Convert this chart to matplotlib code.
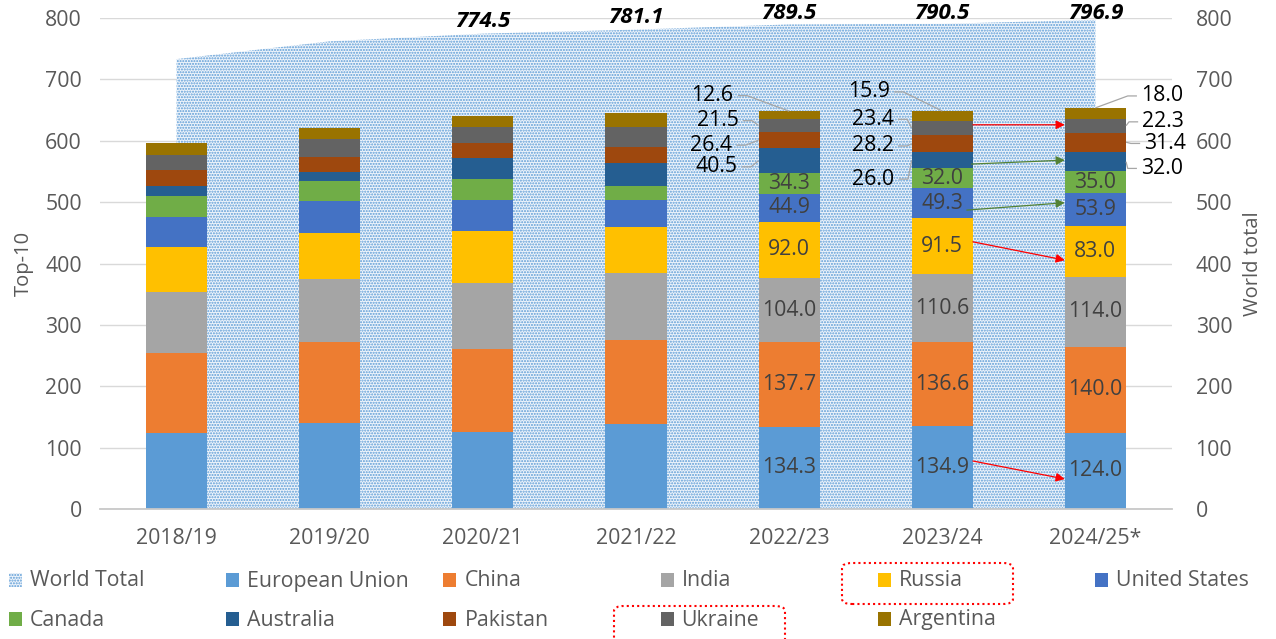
import matplotlib
matplotlib.use('Agg')
import matplotlib.pyplot as plt
from matplotlib.patches import Rectangle, FancyBboxPatch
import numpy as np

plt.rcParams['font.family'] = ['Open Sans', 'DejaVu Sans']
plt.rcParams['hatch.linewidth'] = 1.0

# ---------------- data ----------------
seasons = ['2018/19', '2019/20', '2020/21', '2021/22', '2022/23', '2023/24', '2024/25*']
world_total = [733.0, 762.0, 774.5, 781.1, 789.5, 790.5, 796.9]
eu = [123.3, 139.6, 125.9, 138.4, 134.3, 134.9, 124.0]
china = [130.8, 132.9, 134.7, 136.8, 137.7, 136.6, 140.0]
india = [99.8, 102.6, 107.5, 108.7, 104.0, 110.6, 114.0]
russia = [72.3, 73.9, 85.2, 75.4, 92.0, 91.5, 83.0]
usa = [50.0, 52.1, 50.0, 44.4, 44.9, 49.3, 53.9]
canada = [33.2, 33.1, 34.6, 22.4, 34.3, 32.0, 35.0]
australia = [17.2, 14.7, 33.8, 36.9, 40.5, 26.0, 32.0]
pakistan = [25.1, 23.9, 24.9, 27.1, 26.4, 28.2, 31.4]
ukraine = [24.9, 29.3, 25.1, 32.5, 21.5, 23.4, 22.3]
argentina = [20.1, 18.9, 18.4, 21.9, 12.6, 15.9, 18.0]

series_names = ['European Union', 'China', 'India', 'Russia', 'United States',
                'Canada', 'Australia', 'Pakistan', 'Ukraine', 'Argentina']
series_values = [eu, china, india, russia, usa, canada, australia, pakistan, ukraine, argentina]
series_colors = ['#5B9BD5', '#ED7D31', '#A5A5A5', '#FFC000', '#4472C4',
                 '#70AD47', '#255E91', '#9E480E', '#636363', '#997300']

labeled_seasons = [4, 5, 6]
total_labeled = [2, 3, 4, 5, 6]

# ---------------- layout / style ----------------
W, H = 1276, 639
FS = 15.3
GRAY = '#595959'
BAR_W = 0.4
AREA_FACE = '#EEF4FB'
AREA_DOT = '#5B9BD5'
AREA_HATCH = '......'

fig = plt.figure(figsize=(W / 100, H / 100), dpi=100)
ax = fig.add_axes([100 / W, (H - 509) / H, 1072 / W, 491 / H])
x = np.arange(len(seasons))

# world total area
ax.fill_between(x, 0, world_total, facecolor=AREA_FACE, edgecolor=AREA_DOT,
                hatch=AREA_HATCH, linewidth=0, zorder=1)

# stacked bars
bottom = np.zeros(len(seasons))
bottoms = []
for name, vals, col in zip(series_names, series_values, series_colors):
    vals = np.array(vals)
    ax.bar(x, vals, BAR_W, bottom=bottom, color=col, zorder=2, linewidth=0)
    bottoms.append(bottom.copy())
    bottom = bottom + vals
tops = bottom

# inside labels (first six series)
for si in range(6):
    for i in labeled_seasons:
        v = series_values[si][i]
        ax.text(x[i], bottoms[si][i] + v / 2, f'{v:.1f}', ha='center', va='center',
                fontsize=FS, color='#404040', zorder=4)

# outside labels with leader lines (last four series)
outside_pos = {
    4: {9: (-0.50, 673.5), 8: (-0.467, 632.7), 7: (-0.51, 592.8), 6: (-0.474, 557.5)},
    5: {9: (-0.48, 679.6), 8: (-0.454, 634.9), 7: (-0.454, 591.5), 6: (-0.449, 537.5)},
    6: {9: (0.436, 673.0), 8: (0.444, 630.8), 7: (0.457, 595.6), 6: (0.436, 554.9)},
}
LEAD = '#A6A6A6'
for i, d in outside_pos.items():
    for si, (dx, yv) in d.items():
        v = series_values[si][i]
        ax.text(x[i] + dx, yv, f'{v:.1f}', ha='center', va='center', fontsize=FS,
                color='black', zorder=4)
        sgn = 1 if dx < 0 else -1
        sx = x[i] + dx + sgn * 0.165
        if si == 9:
            tx, ty = x[i], tops[i]
        else:
            tx = x[i] - sgn * BAR_W / 2
            ty = bottoms[si][i] + v / 2
        ax.plot([sx, sx + sgn * 0.06, tx], [yv, yv, ty], color=LEAD, lw=0.9, zorder=3,
                solid_capstyle='butt')

# world total labels
for i in total_labeled:
    v = world_total[i]
    ax.text(x[i], min(v + 20, 807.5), f'{v:.1f}', ha='center', va='center', fontsize=16,
            fontweight='bold', fontstyle='italic', color='black', zorder=5, clip_on=False)

# arrows between 2023/24 and 2024/25
arrows = [
    ((5.2, 626.0), (5.8, 626.0), '#FF0000'),
    ((5.19, 562.0), (5.8, 568.4), '#548235'),
    ((5.16, 487.0), (5.8, 499.0), '#548235'),
    ((5.2, 435.3), (5.8, 405.5), '#FF0000'),
    ((5.2, 78.2), (5.8, 48.9), '#FF0000'),
]
for (x0, y0), (x1, y1), c in arrows:
    ax.annotate('', xy=(x1, y1), xytext=(x0, y0),
                arrowprops=dict(arrowstyle='-|>', color=c, lw=0.9, mutation_scale=13,
                                shrinkA=0, shrinkB=0), zorder=6)

# axes styling
ax.set_xlim(-0.5, 6.5)
ax.set_ylim(0, 800)
ax.set_yticks(range(0, 801, 100))
ax.set_xticks(x)
ax.set_xticklabels(seasons)
ax.yaxis.grid(True, color='#D9D9D9', lw=1)
ax.set_axisbelow(True)
for s in ['top', 'right', 'left']:
    ax.spines[s].set_visible(False)
ax.spines['bottom'].set_color('#C8C8C8')
ax.spines['bottom'].set_linewidth(1.3)
ax.spines['bottom'].set_zorder(3)
ax.tick_params(axis='both', length=0, labelsize=FS, labelcolor=GRAY)
ax.tick_params(axis='x', pad=14)
ax.tick_params(axis='y', pad=13)
ax.set_ylabel('Top-10', fontsize=14.5, color=GRAY, labelpad=8)

ax2 = ax.twinx()
ax2.set_ylim(0, 800)
ax2.set_yticks(range(0, 801, 100))
for s in ['top', 'right', 'left', 'bottom']:
    ax2.spines[s].set_visible(False)
ax2.tick_params(axis='y', length=0, labelsize=FS, labelcolor=GRAY, pad=17)
ax2.set_ylabel('World total', fontsize=14.5, color=GRAY, labelpad=8)

# legend (manual, Excel-like equal columns)
def fx(px):
    return px / W

def fy(py):
    return (H - py) / H

legend_items = [('World Total', None)] + list(zip(series_names, series_colors))
col_left = [9 + 217.2 * k for k in range(6)]
row_y = [580, 619]
for k, (name, col) in enumerate(legend_items):
    r, c = divmod(k, 6)
    lx, ly = col_left[c], row_y[r]
    if col is None:
        patch = Rectangle((fx(lx), fy(ly + 7)), 13 / W, 14 / H, transform=fig.transFigure,
                          facecolor=AREA_FACE, edgecolor=AREA_DOT, hatch=AREA_HATCH, linewidth=0)
    else:
        patch = Rectangle((fx(lx), fy(ly + 7)), 13 / W, 14 / H, transform=fig.transFigure,
                          facecolor=col, edgecolor='none')
    fig.add_artist(patch)
    fig.text(fx(lx + 21), fy(ly + 1), name, fontsize=FS, color=GRAY, ha='left', va='center')

# red dotted highlight boxes in legend
for (x0, y0, x1, y1) in [(842, 563, 1013, 604), (614, 606, 785, 650)]:
    box = FancyBboxPatch((fx(x0), fy(y1)), (x1 - x0) / W, (y1 - y0) / H,
                         boxstyle='round,pad=0,rounding_size=0.008',
                         transform=fig.transFigure, facecolor='none', edgecolor='#FF0000',
                         linestyle=(0, (1, 1.5)), linewidth=1.5, clip_on=False)
    fig.add_artist(box)

fig.savefig('out.png', dpi=100)
